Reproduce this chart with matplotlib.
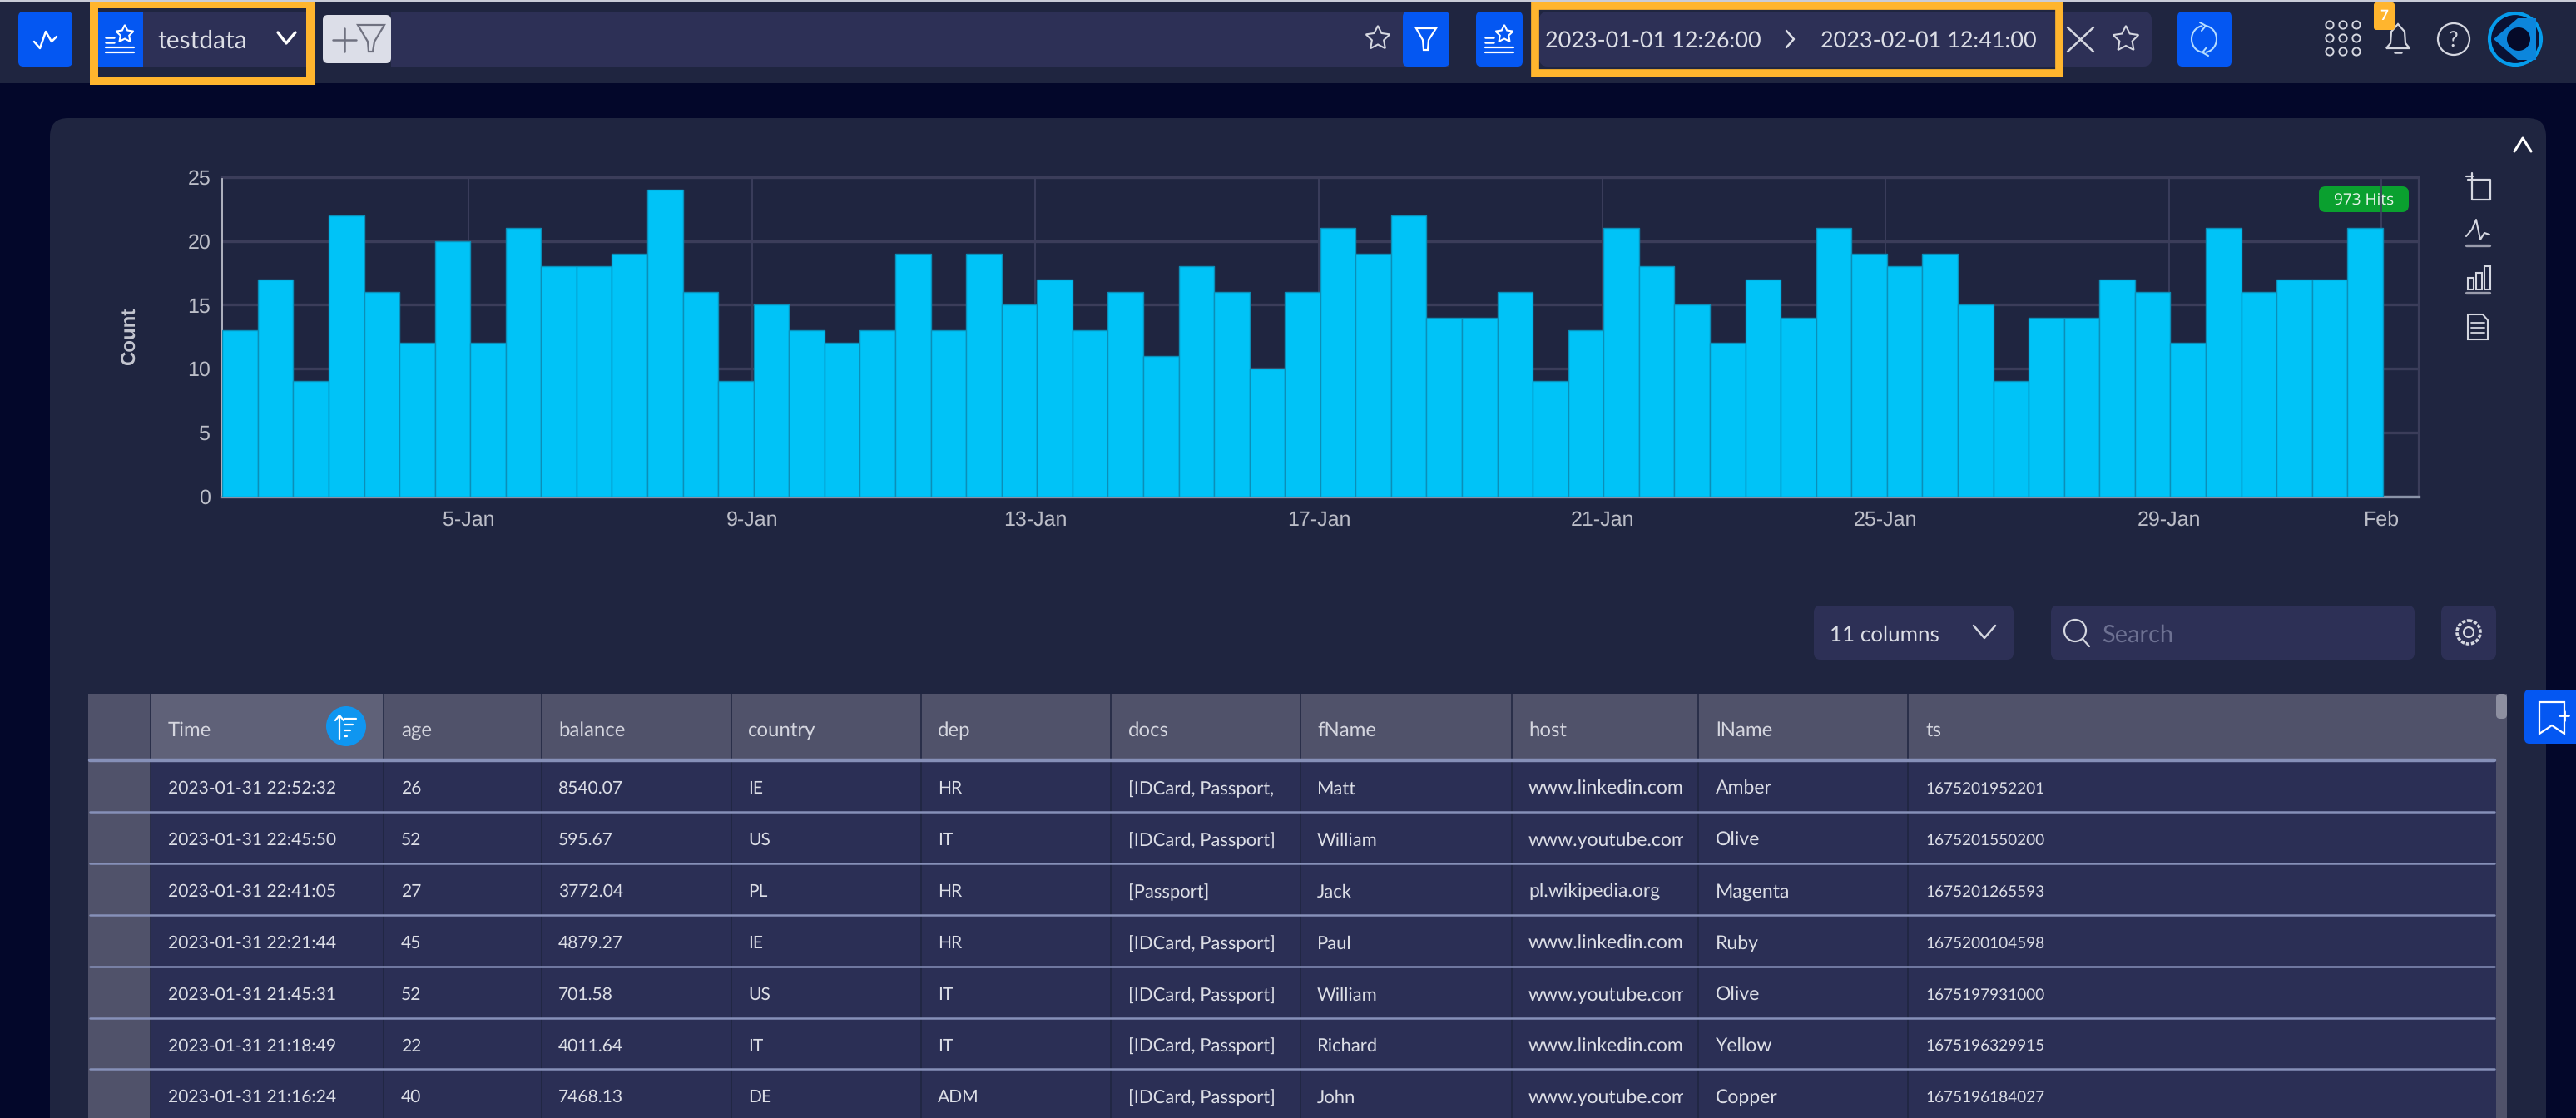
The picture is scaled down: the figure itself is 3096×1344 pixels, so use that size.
import numpy as np
import pandas as pd
import matplotlib
matplotlib.use('Agg')
import matplotlib.pyplot as plt
from matplotlib.patches import FancyBboxPatch, Rectangle, Circle, Polygon

plt.rcParams['text.hinting'] = 'none'
plt.rcParams['text.hinting_factor'] = 1

# histogram data
counts = [13, 17, 9, 22, 16, 12, 20, 12, 21, 18, 18, 19, 24, 16, 9, 15, 13, 12, 13, 19,
          13, 19, 15, 17, 13, 16, 11, 18, 16, 10, 16, 21, 19, 22, 14, 14, 16, 9, 13, 21,
          18, 15, 12, 17, 14, 21, 19, 18, 19, 15, 9, 14, 14, 17, 16, 12, 21, 16, 17, 17, 21]
range_start = '2023-01-01 12:26:00'
range_end = '2023-02-01 12:41:00'
first_bar = '2023-01-01 12:30:00'
tick_dates = ['2023-01-05', '2023-01-09', '2023-01-13', '2023-01-17', '2023-01-21',
              '2023-01-25', '2023-01-29', '2023-02-01']
tick_labels = ['5-Jan', '9-Jan', '13-Jan', '17-Jan', '21-Jan', '25-Jan', '29-Jan', 'Feb']
y_ticks = [0, 5, 10, 15, 20, 25]

# table data
headers = ['Time', 'age', 'balance', 'country', 'dep', 'docs', 'fName', 'host', 'lName', 'ts']
time_col = ['2023-01-31 22:52:32', '2023-01-31 22:45:50', '2023-01-31 22:41:05', '2023-01-31 22:21:44',
            '2023-01-31 21:45:31', '2023-01-31 21:18:49', '2023-01-31 21:16:24']
age_col = ['26', '52', '27', '45', '52', '22', '40']
balance_col = ['8540.07', '595.67', '3772.04', '4879.27', '701.58', '4011.64', '7468.13']
country_col = ['IE', 'US', 'PL', 'IE', 'US', 'IT', 'DE']
dep_col = ['HR', 'IT', 'HR', 'HR', 'IT', 'IT', 'ADM']
docs_col = ['[IDCard, Passport,', '[IDCard, Passport]', '[Passport]', '[IDCard, Passport]',
            '[IDCard, Passport]', '[IDCard, Passport]', '[IDCard, Passport]']
fname_col = ['Matt', 'William', 'Jack', 'Paul', 'William', 'Richard', 'John']
host_col = ['www.linkedin.com', 'www.youtube.com', 'pl.wikipedia.org', 'www.linkedin.com',
            'www.youtube.com', 'www.linkedin.com', 'www.youtube.com']
lname_col = ['Amber', 'Olive', 'Magenta', 'Ruby', 'Olive', 'Yellow', 'Copper']
ts_col = ['1675201952201', '1675201550200', '1675201265593', '1675200104598',
          '1675197931000', '1675196329915', '1675196184027']
columns = [time_col, age_col, balance_col, country_col, dep_col, docs_col, fname_col, host_col, lname_col, ts_col]

# colours
OUTER = '#03072a'
PANEL = '#1f2540'
FIELD = '#2d3056'
BLUE = '#0457f2'
ORANGE = '#ffb52e'
CYAN = '#00c3f7'
HEAD = '#50526a'
ROW = '#2b2f55'
SEP = '#8690b8'
TEXT = '#dcdee6'
ICON = '#d5d7e0'

UI_FONT = ['Lato', 'DejaVu Sans']
W, H = 3096, 1344

fig = plt.figure(figsize=(W / 100, H / 100), dpi=100, facecolor=OUTER)
ui = fig.add_axes([0, 0, 1, 1])
ui.set_xlim(0, W)
ui.set_ylim(H, 0)
ui.axis('off')


def box(x0, y0, x1, y1, color, r=0, z=1):
    if r:
        p = FancyBboxPatch((x0, y0), x1 - x0, y1 - y0, boxstyle=f'round,pad=0,rounding_size={r}',
                           fc=color, ec='none', zorder=z)
    else:
        p = Rectangle((x0, y0), x1 - x0, y1 - y0, fc=color, ec='none', zorder=z)
    ui.add_patch(p)


def line(xs, ys, color=ICON, lw=1.6, z=6):
    ui.plot(xs, ys, color=color, lw=lw, zorder=z, solid_capstyle='round', solid_joinstyle='round')


def label(x, y, s, size=15.5, color=TEXT, ha='left', z=6, clip_to=None):
    t = ui.text(x, y, s, fontsize=size, color=color, ha=ha, va='center_baseline', family=UI_FONT, zorder=z)
    if clip_to is not None:
        t.set_clip_path(Rectangle((clip_to[0], clip_to[1]), clip_to[2] - clip_to[0], clip_to[3] - clip_to[1],
                                  transform=ui.transData))
        t.set_clip_on(True)
    return t


def star(cx, cy, r, color=ICON):
    ang = np.deg2rad(np.arange(0, 360, 36) - 90)
    rad = np.where(np.arange(10) % 2 == 0, r, r * 0.5)
    ui.add_patch(Polygon(np.c_[cx + rad * np.cos(ang), cy + rad * np.sin(ang)], closed=True,
                         fc='none', ec=color, lw=1.5, zorder=6))


def source_icon(cx, cy):
    star(cx + 6, cy - 5, 11, 'white')
    for dy in (11, 17):
        line([cx - 17, cx + 17], [cy + dy, cy + dy], 'white', 1.6)
    for dy in (-1, 5):
        line([cx - 17, cx - 7], [cy + dy, cy + dy], 'white', 1.8)


# top bar and panel
box(0, 0, W, 3, '#c9ccd8', z=8)
box(0, 3, W, 100, PANEL)
box(60, 142, 3060, H + 40, PANEL, r=22)

# data source selector
box(22, 14, 87, 80, BLUE, r=6, z=2)
line([41, 48, 55, 62, 68], [50, 58, 38, 50, 44], 'white', 1.8)
box(118, 14, 368, 80, FIELD, z=2)
box(118, 14, 172, 80, BLUE, z=3)
source_icon(144, 46)
label(189, 47, 'testdata', 21.5)
line([334, 344, 355], [39, 52, 39], 'white', 2.4)
ui.add_patch(Rectangle((113, 5), 260, 92, fc='none', ec=ORANGE, lw=7.2, zorder=5, joinstyle='miter'))

# filter field
box(388, 18, 470, 76, '#dcdee8', r=6, z=3)
line([400, 428], [48, 48], '#6f7180', 1.8)
line([414, 414], [34, 62], '#6f7180', 1.8)
ui.add_patch(Polygon([[430, 30], [462, 30], [450, 50], [448, 62], [443, 62], [442, 50]], closed=True,
                     fc='none', ec='#6f7180', lw=1.6, zorder=6))
box(470, 14, 1742, 80, FIELD, z=2)
star(1656, 46, 15)
box(1686, 14, 1742, 80, BLUE, r=6, z=3)
ui.add_patch(Polygon([[1702, 34], [1726, 34], [1717, 48], [1716, 60], [1711, 60], [1710, 48]], closed=True,
                     fc='none', ec='white', lw=1.6, zorder=6))

# time range
box(1774, 14, 1830, 80, BLUE, r=6, z=2)
source_icon(1802, 46)
box(1850, 14, 2586, 80, FIELD, r=10, z=2)
ui.add_patch(Rectangle((1845, 7), 630, 81, fc='none', ec=ORANGE, lw=7, zorder=5, joinstyle='miter'))
label(1857, 47, range_start, 19.2)
label(2188, 47, range_end, 19.2)
line([2147, 2156, 2147], [37, 47, 57], TEXT, 1.8)
line([2485, 2516], [33, 62], ICON, 1.8)
line([2485, 2516], [62, 33], ICON, 1.8)
star(2555, 47, 16)
box(2617, 14, 2682, 80, BLUE, r=6, z=2)
for a0, a1 in ((100, 260), (280, 440)):
    arc = np.deg2rad(np.linspace(a0, a1, 30))
    line(2649 + 15 * np.cos(arc), 47 + 16 * np.sin(arc), '#b5dcff', 1.5)
line([2644, 2651, 2646], [27, 31, 37], '#b5dcff', 1.5)
line([2654, 2647, 2652], [67, 63, 57], '#b5dcff', 1.5)

# right icons in the top bar
for dx in (-16, 0, 16):
    for dy in (-16, 0, 16):
        ui.add_patch(Circle((2816 + dx, 46 + dy), 4.6, fc='none', ec=ICON, lw=1.4, zorder=6))
ui.add_patch(Polygon([[2868, 58], [2896, 58], [2891, 52], [2890, 38], [2882, 29], [2874, 38], [2873, 52]],
                     closed=True, fc='none', ec=ICON, lw=1.6, zorder=6))
line([2878, 2886], [63, 63], ICON, 1.8)
box(2853, 3, 2878, 36, ORANGE, r=3, z=7)
label(2865.5, 18, '7', 12, 'white', ha='center', z=8).set_fontweight('bold')
ui.add_patch(Circle((2949, 47), 19, fc='none', ec=ICON, lw=1.6, zorder=6))
label(2949, 47, '?', 19, ICON, ha='center')
ui.add_patch(Circle((3023, 47), 31, fc='#0a1235', ec='#059cec', lw=3, zorder=6))
ui.add_patch(Polygon([[2997, 47], [3026, 22], [3048, 22], [3048, 72], [3026, 72]], closed=True,
                     fc='#0c86dc', ec='none', zorder=7))
ui.add_patch(Circle((3027, 47), 14, fc='#050a28', ec='none', zorder=8))

# chart tools
line([3022, 3032, 3042], [182, 166, 182], 'white', 2.2)
line([2966, 2993, 2993], [216, 216, 240], ICON, 1.6)
line([2971, 2971, 2993], [208, 240, 240], ICON, 1.6)
line([2964, 2972], [212, 212], ICON, 1.6)
line([2964, 2971, 2976, 2981, 2986, 2992], [284, 276, 264, 288, 280, 282], ICON, 1.5)
line([2964, 2992], [295, 295], '#9a9cac', 2.4)
for bx, by in zip((2966, 2976, 2986), (334, 328, 320)):
    ui.add_patch(Rectangle((bx, by), 7, 348 - by, fc='none', ec=ICON, lw=1.5, zorder=6))
line([2964, 2992], [352, 352], '#9a9cac', 2.4)
ui.add_patch(Polygon([[2966, 378], [2984, 378], [2990, 385], [2990, 408], [2966, 408]], closed=True,
                     fc='none', ec=ICON, lw=1.5, zorder=6))
for dy in (388, 394, 400):
    line([2970, 2986], [dy, dy], ICON, 1.3)

# hits badge, Lato loses the i here
box(2787, 224, 2895, 255, '#0aa02f', r=8, z=4)
ui.text(2841, 240, '973 Hits', fontsize=14, color='#e8f4ea', ha='center', va='center_baseline',
        family=['Open Sans', 'DejaVu Sans'], zorder=6)

# table controls
box(2180, 728, 2420, 793, FIELD, r=8, z=2)
label(2199, 761, '11 columns', 19)
line([2372, 2385, 2398], [752, 767, 752], ICON, 1.8)
box(2465, 728, 2902, 793, FIELD, r=8, z=2)
ui.add_patch(Circle((2494, 758), 13, fc='none', ec=ICON, lw=1.6, zorder=6))
line([2503, 2511], [768, 777], ICON, 1.6)
label(2526, 761, 'Search', 21, '#6d7192')
box(2934, 728, 3000, 793, FIELD, r=8, z=2)
ui.add_patch(Circle((2967, 760), 14, fc='none', ec=ICON, lw=2.6, ls=(0, (1.2, 0.5)), zorder=6))
ui.add_patch(Circle((2967, 760), 6, fc='none', ec=ICON, lw=1.5, zorder=6))

# table
col_edges = [181, 461, 651, 879, 1107, 1335, 1563, 1817, 2041, 2293, 3000]
text_x = [202, 482, 671, 899, 1127, 1356, 1583, 1837, 2062, 2314]
col_sizes = [15, 15, 15, 15, 15, 16, 15.5, 16.3, 16.3, 14]
row_lines = [914, 976, 1038, 1100, 1162, 1224, 1285, 1347]
box(106, 834, 3000, 912, HEAD, z=2)
box(181, 834, 461, 912, '#5f6178', z=2)
box(181, 912, 3000, H, ROW, z=2)
box(106, 912, 181, H, HEAD, z=2)
box(3000, 834, 3013, H, HEAD, z=2)
box(3000, 834, 3013, 864, '#8d8fa0', r=5, z=3)
for ex in col_edges[:-1]:
    line([ex, ex], [834, H], '#1f2540', 1.1, z=3)
for i, ry in enumerate(row_lines[:-1]):
    line([108, 2998], [ry, ry], SEP, 3.2 if i == 0 else 1.8, z=4)
for name, x0 in zip(headers, text_x):
    label(x0, 876, name, 17.5, '#d5d6df')
ui.add_patch(Circle((416, 873), 24, fc='#0f96f0', ec='none', zorder=4))
line([408, 408], [860, 888], 'white', 1.6)
line([403, 408, 413], [866, 860, 866], 'white', 1.6)
for dy, dx in zip((864, 871, 878, 885), (14, 10, 7, 3)):
    line([414, 414 + dx], [dy, dy], 'white', 1.6)
for c, (col, x0) in enumerate(zip(columns, text_x)):
    for r, val in enumerate(col):
        cy = (row_lines[r] + row_lines[r + 1]) / 2 + 1.5
        label(x0, cy, val, col_sizes[c], TEXT, clip_to=(x0, row_lines[r], col_edges[c + 1] - 18, row_lines[r + 1]))

# bookmark button
box(3034, 829, 3110, 894, BLUE, r=6, z=3)
ui.add_patch(Polygon([[3052, 844], [3082, 844], [3082, 882], [3067, 872], [3052, 882]], closed=True,
                     fc='none', ec='white', lw=1.6, zorder=6))
line([3076, 3087], [860, 860], 'white', 2)
line([3081.5, 3081.5], [855, 866], 'white', 2)

# histogram
ax = fig.add_axes([267 / W, (H - 596.7) / H, (2907 - 267) / W, (596.7 - 212.7) / H])
ax.set_zorder(3)
ax.patch.set_alpha(0)
bar_left = pd.date_range(first_bar, periods=len(counts), freq='12h')
ax.bar(bar_left, counts, width=0.5, align='edge', color=CYAN, edgecolor='#0b8fb8', linewidth=1, zorder=3)
ax.set_xlim(pd.Timestamp(range_start), pd.Timestamp(range_end))
ax.set_ylim(0, 25)
ax.set_yticks(y_ticks)
ax.set_xticks(pd.to_datetime(tick_dates))
ax.set_xticklabels(tick_labels)
ax.tick_params(axis='both', length=0, labelsize=18, labelcolor='#bcbec8', labelfontfamily='Liberation Sans')
ax.tick_params(axis='x', pad=12)
ax.tick_params(axis='y', pad=10)
ax.grid(axis='y', color='#3b3d5a', lw=2.4, zorder=1)
ax.grid(axis='x', color='#3f4160', lw=1.2, zorder=1)
for side in ('top', 'right'):
    ax.spines[side].set_color('#3b3d5a')
    ax.spines[side].set_linewidth(1.6)
ax.spines['left'].set_color('#c9cbd6')
ax.spines['left'].set_linewidth(1.2)
ax.spines['bottom'].set_color('#8a93a8')
ax.spines['bottom'].set_linewidth(2.4)
ax.set_ylabel('Count', fontsize=17, fontweight='bold', color='#c4c6d0', family='Liberation Sans', labelpad=0)
ax.yaxis.set_label_coords((168 - 267) / (2907 - 267), 0.5)

fig.savefig('out.png', dpi=100, facecolor=OUTER)
